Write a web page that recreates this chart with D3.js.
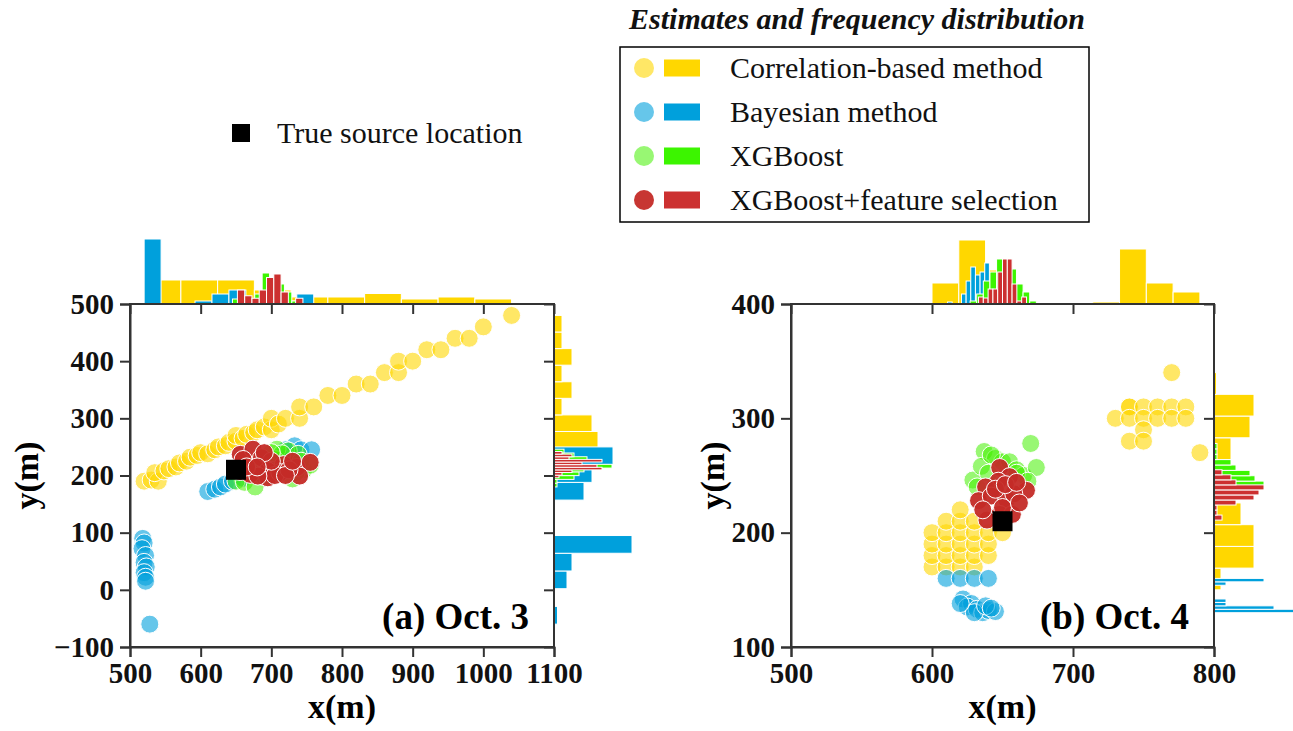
<!DOCTYPE html>
<html>
<head>
<meta charset="utf-8">
<script src="https://cdn.jsdelivr.net/npm/d3@7"></script>
<style>
body { margin: 0; background: #fff; }
svg text { font-family: "Liberation Serif", "Times New Roman", serif; }
</style>
</head>
<body>
<svg id="chart" width="1293" height="731"></svg>
<script>
// methods, in drawing order
const methods = ["Correlation-based method", "Bayesian method", "XGBoost", "XGBoost+feature selection"];
const dotColors = ["#FFD700", "#00A0DC", "#44F000", "#C42B27"];
const dotAlpha = [0.6, 0.6, 0.55, 0.95];
const barColors = ["#FFD700", "#00A0DC", "#3CF500", "#CC3030"];

// Oct. 3 estimates (x, y in m)
const oct3Corr = [[520,190],[530,192],[540,190],[535,205],[548,208],[555,212],[565,215],[570,222],[580,225],[585,232],
  [595,235],[600,240],[610,238],[620,245],[625,250],[635,252],[640,258],[650,260],[650,270],[660,265],[665,272],
  [675,275],[680,280],[690,285],[700,280],[700,300],[710,290],[720,300],[740,300],[740,320],[760,320],[780,340],
  [800,340],[820,360],[840,360],[860,380],[880,380],[880,400],[900,400],[920,420],[940,420],[960,440],[980,440],
  [1000,460],[1040,480]];
const oct3Bayes = [[518,90],[520,82],[517,72],[522,60],[520,48],[523,40],[520,30],[522,22],[522,15],[528,-60],
  [610,172],[620,176],[628,180],[635,185],[645,190],[660,195],[680,205],[700,215],[715,225],[725,235],
  [733,252],[742,245],[757,245],[720,245]];
const oct3Xgb = [[650,190],[662,188],[677,180],[690,198],[700,205],[708,246],[724,243],[738,237],[730,194],[746,210],
  [720,215],[705,228],[690,232],[668,215],[742,225],[715,238],[680,225],[700,240],[735,205],[755,218]];
const oct3XgbFs = [[656,237],[674,246],[686,231],[660,228],[656,207],[670,202],[695,208],[695,196],[717,219],[736,214],
  [755,223],[712,205],[705,200],[681,199],[740,199],[700,225],[725,210],[690,240],[665,215],[720,200],[730,225],[680,215]];
const oct3Source = [650, 210];

// Oct. 4 estimates
const oct4Corr = [[600,170],[600,180],[600,190],[600,200],[610,170],[610,180],[610,190],[610,200],[610,210],
  [620,170],[620,180],[620,190],[620,200],[620,210],[620,220],[630,170],[630,180],[630,190],[630,200],[630,210],
  [640,180],[640,190],[640,200],[650,200],
  [770,340],[740,310],[740,310],[750,310],[760,310],[770,310],[780,310],[730,300],[740,300],[750,300],[760,300],
  [770,300],[780,300],[750,290],[740,280],[750,280],[790,270]];
const oct4Bayes = [[610,160],[620,160],[630,160],[640,160],[622,142],[628,138],[625,135],[632,133],[636,130],
  [640,132],[645,131],[630,130],[638,136],[642,134],[620,138]];
const oct4Xgb = [[637,271],[645,265],[650,262],[655,262],[660,255],[665,250],[670,278],[674,257],[629,246],[635,258],
  [640,252],[660,252],[668,245],[632,240],[642,268]];
const oct4XgbFs = [[648,257],[655,249],[647,245],[638,240],[667,237],[633,228],[642,232],[653,229],[658,234],[648,216],
  [657,216],[639,211],[645,238],[652,242],[660,244],[650,222],[636,220],[662,226]];
const oct4Source = [650, 210];

// frequency distributions: [lo, hi] of equal-width bins and frequencies per bin
const oct3XRange = [[520,1040],[520,760],[645,750],[652,755]];
const oct3XFreq = [
  [9.6,9.6,9.6,5.6,2.8,2.8,4.2,2,2.8,2],
  [26,0,0,1.2,4,5.6,1.6,1.2,1.2,4],
  [2,2.4,1.6,4,12.4,8.8,8,4.8,1.2,0],
  [5.6,3.3,2.3,5.6,10.6,12,4.8,0,2.3,0]];
const oct3YRange = [[190,480],[-60,250],[180,246],[196,242]];
const oct3YFreq = [
  [8,12,17.6,15.2,3.2,7.2,3.2,7.2,3.2,3.2],
  [1.4,0,5.2,7.2,31.2,0,0,12,15.2,23.6],
  [1.2,1.2,8,10,12,23.2,8.8,13.2,8,4],
  [2,3.2,7.2,19.2,17.2,11.2,19.2,6,7.2,3.2]];

const oct4XRange = [[600,790],[611,644],[627,674],[633,667]];
const oct4XFreq = [
  [8.4,25.6,13.6,0,0,0,0.8,22,8.4,4.8],
  [0.8,0,0,4,9.2,14.8,11.6,12.8,16.4,2],
  [1.2,4,9.2,12.8,18,16,14,8,4.8,1.2],
  [2.8,2.4,6,6,12.8,18,18,8,1.2,2.8]];
const oct4YRange = [[150,340],[130,160],[231,278],[211,255]];
const oct4YFreq = [
  [2.8,16,16,10.8,0,0,6.8,14.4,16,1],
  [36,24,4.8,4.8,0,0,0,0,4.8,20],
  [4,8,20,16.4,14.4,8.8,6.8,1.2,1.2,1.2],
  [3.2,1.2,1.2,8.8,16,18,20,8.8,6.8,3.2]];

const oct3XTicks = [500,600,700,800,900,1000,1100];
const oct3YTicks = [-100,0,100,200,300,400,500];
const oct4XTicks = [500,600,700,800];
const oct4YTicks = [100,200,300,400];

const svg = d3.select("#chart");
const freqLen = d3.scaleLinear().domain([0, 26]).range([0, 65]);
const tickFmt = d3.format("d");

function styleAxis(g) {
  g.select(".domain").attr("stroke", "#333").attr("stroke-width", 2);
  g.selectAll(".tick line").attr("stroke", "#333").attr("stroke-width", 2);
  g.selectAll(".tick text").attr("fill", "#111").style("font-size", "29px").style("font-weight", "bold");
}

function drawPanel(p) {
  const x = d3.scaleLinear().domain(p.xDom).range([p.left, p.right]);
  const y = d3.scaleLinear().domain(p.yDom).range([p.bottom, p.top]);
  const g = svg.append("g");

  // marginal histograms
  p.xRange.forEach((r, m) => {
    const step = (r[1] - r[0]) / p.xFreq[m].length;
    g.append("g").selectAll("rect")
      .data(p.xFreq[m].map((f, i) => ({f, a: r[0] + i * step, b: r[0] + (i + 1) * step})).filter(d => d.f > 0))
      .join("rect")
      .attr("x", d => x(d.a)).attr("width", d => x(d.b) - x(d.a))
      .attr("y", d => p.top - freqLen(d.f)).attr("height", d => freqLen(d.f))
      .attr("fill", barColors[m]).attr("stroke", "#fff").attr("stroke-width", 1);
  });
  p.yRange.forEach((r, m) => {
    const step = (r[1] - r[0]) / p.yFreq[m].length;
    g.append("g").selectAll("rect")
      .data(p.yFreq[m].map((f, i) => ({f, a: r[0] + i * step, b: r[0] + (i + 1) * step})).filter(d => d.f > 0))
      .join("rect")
      .attr("x", p.right).attr("width", d => freqLen(d.f))
      .attr("y", d => y(d.b)).attr("height", d => y(d.a) - y(d.b))
      .attr("fill", barColors[m]).attr("stroke", "#fff").attr("stroke-width", 1);
  });

  // scatter
  p.points.forEach((pts, m) => {
    g.append("g").selectAll("circle").data(pts).join("circle")
      .attr("cx", d => x(d[0])).attr("cy", d => y(d[1])).attr("r", 9)
      .attr("fill", dotColors[m]).attr("fill-opacity", dotAlpha[m])
      .attr("stroke", "#fff").attr("stroke-width", 1);
  });
  g.append("rect")
    .attr("x", x(p.source[0]) - 10).attr("y", y(p.source[1]) - 10)
    .attr("width", 20).attr("height", 20).attr("fill", "#000");

  // frame and axes
  g.append("rect").attr("x", p.left).attr("y", p.top)
    .attr("width", p.right - p.left).attr("height", p.bottom - p.top)
    .attr("fill", "none").attr("stroke", "#333").attr("stroke-width", 2);
  g.append("g").attr("transform", `translate(0,${p.bottom})`)
    .call(d3.axisBottom(x).tickValues(p.xTicks).tickFormat(tickFmt).tickSize(10).tickPadding(5)).call(styleAxis);
  g.append("g").attr("transform", `translate(${p.left},0)`)
    .call(d3.axisLeft(y).tickValues(p.yTicks).tickFormat(tickFmt).tickSize(10).tickPadding(6)).call(styleAxis);
  g.append("g").attr("transform", `translate(0,${p.top})`)
    .call(d3.axisTop(x).tickValues(p.xTicks).tickSize(-10).tickFormat("")).call(styleAxis)
    .select(".domain").remove();
  g.append("g").attr("transform", `translate(${p.right},0)`)
    .call(d3.axisRight(y).tickValues(p.yTicks).tickSize(-10).tickFormat("")).call(styleAxis)
    .select(".domain").remove();

  g.append("text").attr("x", (p.left + p.right) / 2).attr("y", 718)
    .attr("text-anchor", "middle").style("font-size", "34px").style("font-weight", "bold")
    .text("x(m)");
  g.append("text").attr("transform", `translate(${p.yLabelX},${(p.top + p.bottom) / 2}) rotate(-90)`)
    .attr("text-anchor", "middle").attr("dy", "0.35em").style("font-size", "34px").style("font-weight", "bold")
    .text("y(m)");
  g.append("text").attr("x", p.right - 25).attr("y", 629)
    .attr("text-anchor", "end").style("font-size", "37px").style("font-weight", "bold")
    .text(p.label);
}

drawPanel({
  left: 130, right: 554, top: 304, bottom: 647,
  xDom: [500, 1100], yDom: [-100, 500], xTicks: oct3XTicks, yTicks: oct3YTicks,
  points: [oct3Corr, oct3Bayes, oct3Xgb, oct3XgbFs], source: oct3Source,
  xRange: oct3XRange, xFreq: oct3XFreq, yRange: oct3YRange, yFreq: oct3YFreq,
  yLabelX: 26, label: "(a) Oct. 3"
});
drawPanel({
  left: 791, right: 1214, top: 304, bottom: 647,
  xDom: [500, 800], yDom: [100, 400], xTicks: oct4XTicks, yTicks: oct4YTicks,
  points: [oct4Corr, oct4Bayes, oct4Xgb, oct4XgbFs], source: oct4Source,
  xRange: oct4XRange, xFreq: oct4XFreq, yRange: oct4YRange, yFreq: oct4YFreq,
  yLabelX: 712, label: "(b) Oct. 4"
});

// true source legend
svg.append("rect").attr("x", 232).attr("y", 124).attr("width", 18).attr("height", 18).attr("fill", "#000");
svg.append("text").attr("x", 277).attr("y", 143).style("font-size", "30px").attr("fill", "#111")
  .text("True source location");

// method legend
svg.append("text").attr("x", 857).attr("y", 29).attr("text-anchor", "middle")
  .style("font-size", "30px").style("font-weight", "bold").style("font-style", "italic").attr("fill", "#111")
  .text("Estimates and frequency distribution");
svg.append("rect").attr("x", 620).attr("y", 47).attr("width", 469).attr("height", 175)
  .attr("fill", "#fff").attr("stroke", "#000").attr("stroke-width", 1.5);
const rows = svg.append("g").selectAll("g").data(methods).join("g")
  .attr("transform", (d, i) => `translate(0,${68 + i * 44})`);
rows.append("circle").attr("cx", 644).attr("cy", 0).attr("r", 10)
  .attr("fill", (d, i) => dotColors[i]).attr("fill-opacity", (d, i) => dotAlpha[i]);
rows.append("rect").attr("x", 664).attr("y", -8.5).attr("width", 36).attr("height", 17)
  .attr("fill", (d, i) => barColors[i]);
rows.append("text").attr("x", 730).attr("y", 10).style("font-size", "30px").attr("fill", "#111")
  .text(d => d);
</script>
</body>
</html>
